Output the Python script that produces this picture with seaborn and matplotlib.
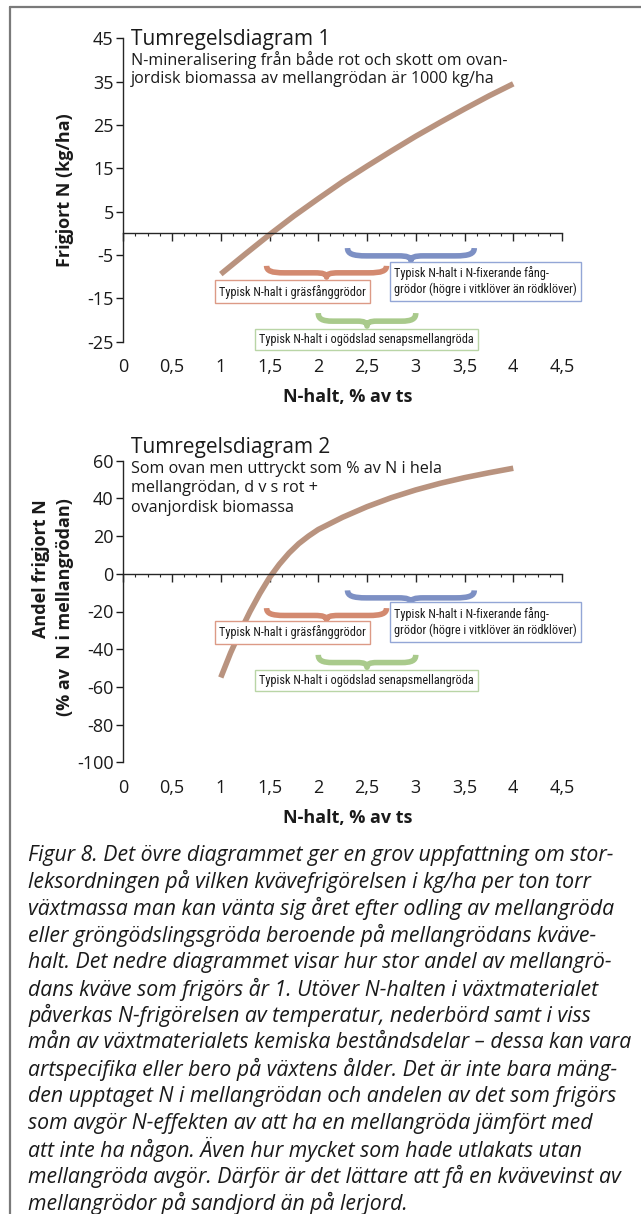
import numpy as np
import pandas as pd
import seaborn as sns
import matplotlib.pyplot as plt
from matplotlib import font_manager
from matplotlib.path import Path
from matplotlib.patches import PathPatch
from matplotlib.lines import Line2D

# --- data ---
n_halt_1 = [1.0, 1.25, 1.5, 1.75, 2.0, 2.25, 2.5, 2.75, 3.0, 3.25, 3.5, 3.75, 4.0]
frigjort_1 = [-9.4, -4.8, -0.3, 4.0, 8.0, 11.9, 15.5, 19.0, 22.4, 25.6, 28.7, 31.7, 34.5]

n_halt_2 = [1.0, 1.1, 1.2, 1.3, 1.4, 1.5, 1.6, 1.7, 1.8, 1.9, 2.0, 2.25, 2.5, 2.75,
            3.0, 3.25, 3.5, 3.75, 4.0]
andel_2 = [-55, -42, -30.5, -20, -10.5, -2, 5, 11, 16, 20, 23.5, 30, 35.6, 40.4,
           44.5, 48, 51, 53.6, 56]

yticks_1 = [45, 35, 25, 15, 5, -5, -15, -25]
yticks_2 = [60, 40, 20, 0, -20, -40, -60, -80, -100]
xticks = [0, 0.5, 1, 1.5, 2, 2.5, 3, 3.5, 4, 4.5]
xtick_labels = ["0", "0,5", "1", "1,5", "2", "2,5", "3", "3,5", "4", "4,5"]

# typical N ranges (% av ts) shown with braces
range_gras = (1.47, 2.7)
range_fix = (2.3, 3.6)
range_senap = (2.0, 3.0)

label_gras = "Typisk N-halt i gräsfånggrödor"
label_fix = "Typisk N-halt i N-fixerande fång-\ngrödor (högre i vitklöver än rödklöver)"
label_senap = "Typisk N-halt i ogödslad senapsmellangröda"

sub_1 = ["N-mineralisering från både rot och skott om ovan-",
         "jordisk biomassa av mellangrödan är 1000 kg/ha"]
sub_2 = ["Som ovan men uttryckt som % av N i hela",
         "mellangrödan, d v s rot +", "ovanjordisk biomassa"]

caption = [
    "Figur 8. Det övre diagrammet ger en grov uppfattning om stor-",
    "leksordningen på vilken kvävefrigörelsen i kg/ha per ton torr",
    "växtmassa man kan vänta sig året efter odling av mellangröda",
    "eller gröngödslingsgröda beroende på mellangrödans kväve-",
    "halt. Det nedre diagrammet visar hur stor andel av mellangrö-",
    "dans kväve som frigörs år 1. Utöver N-halten i växtmaterialet",
    "påverkas N-frigörelsen av temperatur, nederbörd samt i viss",
    "mån av växtmaterialets kemiska beståndsdelar – dessa kan vara",
    "artspecifika eller bero på växtens ålder. Det är inte bara mäng-",
    "den upptaget N i mellangrödan och andelen av det som frigörs",
    "som avgör N-effekten av att ha en mellangröda jämfört med",
    "att inte ha någon. Även hur mycket som hade utlakats utan",
    "mellangröda avgör. Därför är det lättare att få en kvävevinst av",
    "mellangrödor på sandjord än på lerjord.",
]

# --- fonts ---
sns.set_style("ticks")
entries = font_manager.fontManager.ttflist
names = {f.name for f in entries}
base = "Open Sans" if "Open Sans" in names else "DejaVu Sans"

narrow, narrow_stretch = base, "normal"
for cand in ["Liberation Sans Narrow", "Roboto Condensed", "Open Sans Condensed",
             "Noto Sans Condensed", "DejaVu Sans Condensed"]:
    if cand in names:
        narrow = cand
        break
else:
    for cand in ["Noto Sans", "DejaVu Sans"]:
        if any(f.name == cand and f.stretch in ("condensed", "semi-condensed", 75, 87.5)
               for f in entries):
            narrow, narrow_stretch = cand, "condensed"
            break

italic = "DejaVu Sans"
for cand in ["Open Sans", "Noto Sans", "Lato", "DejaVu Sans"]:
    if any(f.name == cand and f.style == "italic" for f in entries):
        italic = cand
        break
plt.rcParams["font.family"] = [base, "DejaVu Sans"]

ink = "#1a1a1a"
curve_col = "#b9937f"
red, blue, green = "#d38a70", "#7d90c4", "#a9ca8c"
red_box, blue_box, green_box = "#dc9a86", "#93a6d6", "#b9d5a6"

W, H = 641, 1214
fig = plt.figure(figsize=(W / 100, H / 100), dpi=100)
renderer = fig.canvas.get_renderer()


def fx(px):
    return px / W


def fy(py):
    return 1 - py / H


def fit_size(text, target_px, **kw):
    # font size that makes `text` about target_px wide
    t = fig.text(0, 0, text, fontsize=10, **kw)
    w = t.get_window_extent(renderer).width
    t.remove()
    return 10 * target_px / w


x_left, x_right = 123.3, 562.0
ax1 = fig.add_axes([fx(x_left), fy(341.7), (x_right - x_left) / W, (341.7 - 38.3) / H])
ax2 = fig.add_axes([fx(x_left), fy(762.3), (x_right - x_left) / W, (762.3 - 460.7) / H])


def style_axes(ax, yticks):
    ax.set_xlim(0, 4.5)
    ax.set_ylim(min(yticks), max(yticks))
    ax.spines["top"].set_visible(False)
    ax.spines["right"].set_visible(False)
    ax.spines["bottom"].set_position(("data", 0))
    ax.spines["left"].set_linewidth(1.0)
    ax.spines["bottom"].set_linewidth(1.0)
    ax.set_xticks(xticks)
    ax.set_xticks(np.arange(0, 4.5, 0.125), minor=True)
    ax.tick_params(axis="x", which="major", direction="out", length=6, width=1, labelbottom=False)
    ax.tick_params(axis="x", which="minor", direction="out", length=2, width=0.8)
    ax.set_yticks(yticks)
    ax.set_yticklabels([str(v) for v in yticks])
    ax.tick_params(axis="y", direction="out", length=5, width=1, pad=2, labelsize=13, colors=ink)
    ax.set_xlabel("")
    ax.set_ylabel("")
    sec = ax.secondary_xaxis("bottom")
    sec.set_xticks(xticks)
    sec.set_xticklabels(xtick_labels)
    sec.tick_params(length=0, pad=12, labelsize=13, colors=ink)
    sec.spines["bottom"].set_visible(False)


def brace(ax, xr, ytop, ybot, color):
    x0, x1 = xr
    uv = [(0, 0), (0, 0.45), (0.04, 0.62), (0.15, 0.62),
          (0.40, 0.62),
          (0.47, 0.62), (0.5, 0.72), (0.5, 1.0),
          (0.5, 0.72), (0.53, 0.62), (0.60, 0.62),
          (0.85, 0.62),
          (0.96, 0.62), (1, 0.45), (1, 0)]
    codes = [Path.MOVETO, Path.CURVE4, Path.CURVE4, Path.CURVE4, Path.LINETO,
             Path.CURVE4, Path.CURVE4, Path.CURVE4, Path.CURVE4, Path.CURVE4, Path.CURVE4,
             Path.LINETO, Path.CURVE4, Path.CURVE4, Path.CURVE4]
    verts = [(x0 + u * (x1 - x0), ytop - v * (ytop - ybot)) for u, v in uv]
    ax.add_patch(PathPatch(Path(verts, codes), fill=False, ec=color, lw=4.0,
                           capstyle="butt", joinstyle="round", zorder=3))


box_kw = dict(family=[narrow, "DejaVu Sans"], stretch=narrow_stretch)
box_fs = min(fit_size(label_gras, 149, **box_kw),
             fit_size(label_senap, 214, **box_kw),
             fit_size(label_fix.split("\n")[1], 186, **box_kw))


def box(px, py, text, ec):
    fig.text(fx(px + 3.5), fy(py), text, ha="left", va="center", fontsize=box_fs,
             color=ink, linespacing=1.3, zorder=5,
             bbox=dict(boxstyle="square,pad=0.35", fc="white", ec=ec, lw=1.0), **box_kw)


df1 = pd.DataFrame({"N-halt": n_halt_1, "Frigjort": frigjort_1})
df2 = pd.DataFrame({"N-halt": n_halt_2, "Andel": andel_2})

sns.lineplot(data=df1, x="N-halt", y="Frigjort", ax=ax1, color=curve_col, lw=4,
             solid_capstyle="butt", zorder=2)
sns.lineplot(data=df2, x="N-halt", y="Andel", ax=ax2, color=curve_col, lw=4,
             solid_capstyle="butt", zorder=2)
style_axes(ax1, yticks_1)
style_axes(ax2, yticks_2)

# braces, top diagram
brace(ax1, range_fix, -3.4, -6.3, blue)
brace(ax1, range_gras, -7.5, -10.1, red)
brace(ax1, range_senap, -18.4, -21.4, green)
# braces, bottom diagram
brace(ax2, range_fix, -8.8, -15.2, blue)
brace(ax2, range_gras, -18.2, -24.5, red)
brace(ax2, range_senap, -43.0, -49.6, green)

box(215.5, 291.7, label_gras, red_box)
box(390.4, 281.2, label_fix, blue_box)
box(255.5, 339.5, label_senap, green_box)
box(215.5, 632.3, label_gras, red_box)
box(390.4, 622.0, label_fix, blue_box)
box(255.5, 680.4, label_senap, green_box)

# titles
title_fs = fit_size("Tumregelsdiagram 1", 201)
sub1_fs = fit_size(sub_1[0], 376)
sub2_fs = fit_size(sub_2[0], 310)
fig.text(fx(131), fy(39), "Tumregelsdiagram 1", fontsize=title_fs, color=ink, va="center")
for i, line in enumerate(sub_1):
    fig.text(fx(131), fy(60 + 19.3 * i), line, fontsize=sub1_fs, color=ink, va="center")

fig.text(fx(131), fy(448), "Tumregelsdiagram 2", fontsize=title_fs, color=ink, va="center")
for i, line in enumerate(sub_2):
    fig.text(fx(131), fy(469 + 19.5 * i), line, fontsize=sub2_fs, color=ink, va="center")

# axis labels
fig.text(fx(65), fy(190), "Frigjort N (kg/ha)", rotation=90, ha="center", va="center",
         fontsize=13, fontweight="bold", color=ink)
fig.text(fx(41), fy(499), "Andel frigjort N", rotation=90, ha="center", va="top",
         fontsize=13, fontweight="bold", color=ink)
fig.text(fx(65), fy(498), "(% av  N i mellangrödan)", rotation=90, ha="center", va="top",
         fontsize=13, fontweight="bold", color=ink)
fig.text(fx(347.5), fy(396.7), "N-halt, % av ts", ha="center", va="center",
         fontsize=13, fontweight="bold", color=ink)
fig.text(fx(347.5), fy(818.3), "N-halt, % av ts", ha="center", va="center",
         fontsize=13, fontweight="bold", color=ink)

# caption: size chosen so the lines span about as wide as in the reference
cap_kw = dict(family=[italic, "DejaVu Sans"], style="italic")
cap_fs = min(fit_size(caption[0], 600, **cap_kw), fit_size(caption[7], 606, **cap_kw),
             fit_size(caption[12], 606, **cap_kw), fit_size(caption[8], 606, **cap_kw))
for i, line in enumerate(caption):
    fig.text(fx(28), fy(855 + 26.8 * i), line, fontsize=cap_fs, color=ink, va="center",
             **cap_kw)

# frame
fig.add_artist(Line2D([fx(10), 1], [fy(7), fy(7)], transform=fig.transFigure,
                      color="#7a7a7a", lw=1.6))
fig.add_artist(Line2D([fx(10), fx(10)], [fy(7), 0], transform=fig.transFigure,
                      color="#7a7a7a", lw=1.6))

fig.savefig("out.png", dpi=100)
